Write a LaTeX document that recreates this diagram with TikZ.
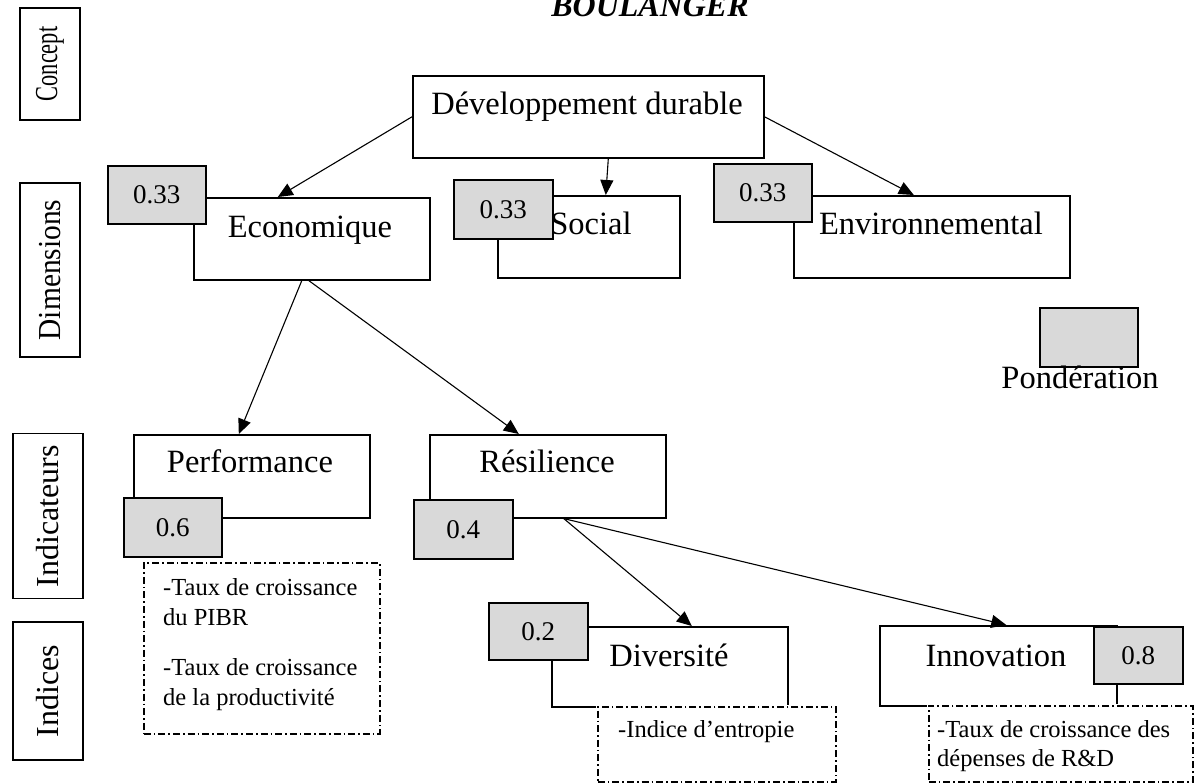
\documentclass[tikz,border=0pt]{standalone}
\usepackage{fontspec}
\setmainfont{Liberation Serif}
\usetikzlibrary{arrows.meta,calc}
\definecolor{wgray}{HTML}{D9D9D9}
\newcommand{\narrow}[2]{\scalebox{#1}[1]{#2}}
\begin{document}
\begin{tikzpicture}[x=1pt,y=-1pt,
  box/.style={draw=black, line width=1.6pt, fill=white, inner sep=0pt, anchor=north west},
  wbox/.style={draw=black, line width=1.6pt, fill=wgray, inner sep=0pt, anchor=north west,
               font=\fontsize{27}{31}\selectfont},
  dbox/.style={draw=black, line width=1.6pt, fill=white, inner sep=0pt, anchor=north west,
               dash pattern=on 7pt off 3pt on 1.6pt off 3pt,
               preaction={draw=white, line width=3pt, solid}},
  lvl/.style={draw=black, line width=1.6pt, inner sep=0pt, rotate=90,
              font=\fontsize{32}{36}\selectfont},
  txt/.style={inner sep=0pt, anchor=base, font=\fontsize{32.5}{37}\selectfont},
  small/.style={inner sep=0pt, font=\fontsize{24.5}{30}\selectfont, align=left},
  arr/.style={-{Triangle[length=15pt,width=13pt]}, line width=1.1pt}
]
\useasboundingbox (0,0) rectangle (1195,783);

% title
\node[inner sep=0pt, anchor=base, font=\fontsize{32}{36}\selectfont\bfseries\itshape] (title) at (650,17) {BOULANGER};

% level labels on the left
\node[lvl, minimum width=112pt, minimum height=60pt] (lconcept) at (50,64) {\narrow{0.7}{Concept}};
\node[lvl, minimum width=174pt, minimum height=60pt] (ldim) at (50,270) {\narrow{0.92}{Dimensions}};
\node[lvl, minimum width=165pt, minimum height=70pt] (lind) at (48,516) {\narrow{1}{Indicateurs}};
\node[lvl, minimum width=138pt, minimum height=70pt] (lidx) at (48,691) {\narrow{1}{Indices}};

% main boxes
\node[box, minimum width=351pt, minimum height=82pt] (dd) at (412,75) {};
\node[txt] (ddt) at (587,115) {Développement durable};

\node[box, minimum width=236pt, minimum height=82pt] (eco) at (193,197) {};
\node[txt] (ecot) at (310,238) {Economique};
\node[box, minimum width=182pt, minimum height=82pt] (soc) at (497,195) {};
\node[txt] (soct) at (591,235) {Social};
\node[box, minimum width=276pt, minimum height=82pt] (env) at (793,195) {};
\node[txt] (envt) at (931,235) {Environnemental};

\node[box, minimum width=236pt, minimum height=83pt] (perf) at (133,434) {};
\node[txt] (perft) at (250,473) {Performance};
\node[box, minimum width=236pt, minimum height=83pt] (res) at (429,434) {};
\node[txt] (rest) at (547,473) {Résilience};

\node[box, minimum width=236pt, minimum height=80pt] (div) at (551,626) {};
\node[txt] (divt) at (669,666) {Diversité};
\node[box, minimum width=237pt, minimum height=80pt] (inno) at (879,625) {};
\node[txt] (innot) at (996,666) {Innovation};

% weights
\node[wbox, minimum width=98pt, minimum height=58pt] (weco) at (107,165) {0.33};
\node[wbox, minimum width=99pt, minimum height=59pt] (wsoc) at (453,179) {0.33};
\node[wbox, minimum width=98pt, minimum height=58pt] (wenv) at (713,163) {0.33};
\node[wbox, minimum width=98pt, minimum height=59pt] (wperf) at (123,497) {0.6};
\node[wbox, minimum width=99pt, minimum height=59pt] (wres) at (413,499) {0.4};
\node[wbox, minimum width=99pt, minimum height=57pt] (wdiv) at (488,602) {0.2};
\node[wbox, minimum width=89pt, minimum height=57pt] (winno) at (1093,626) {0.8};

% legend
\node[wbox, minimum width=98pt, minimum height=59pt] (pond) at (1039,307) {};
\node[txt] (pondt) at (1080,389) {Pondération};

% index lists
\node[dbox, minimum width=236pt, minimum height=171pt] (dperf) at (143,562) {};
\node[small, anchor=north west] (dperft) at (163,578.3)
  {-Taux de croissance\\du PIBR\\[20pt]-Taux de croissance\\de la productivité};
\node[dbox, minimum width=238pt, minimum height=75pt] (ddiv) at (597,706) {};
\node[small, anchor=base west] (ddivt) at (618,737) {-Indice d’entropie};
\node[dbox, minimum width=264pt, minimum height=76pt] (dinno) at (928,705) {};
\node[small, anchor=base west] (dinnot1) at (937,737) {-Taux de croissance des};
\node[small, anchor=base west] (dinnot2) at (937,766) {dépenses de R\&D};

% connectors
\draw[arr] (dd.west) -- ([xshift=-34pt]eco.north);
\draw[arr] ([xshift=20pt]dd.south) -- ([xshift=17pt]soc.north);
\draw[arr] (dd.east) -- ([xshift=-18pt]env.north);
\draw[arr] ([xshift=-10pt]eco.south) -- ([xshift=-13pt]perf.north);
\draw[arr] ([xshift=-3pt]eco.south) -- ([xshift=-29pt]res.north);
\draw[arr] ([xshift=16pt]res.south) -- ([xshift=22pt]div.north);
\draw[arr] ([xshift=16pt]res.south) -- ([xshift=8pt]inno.north);
\end{tikzpicture}
\end{document}
